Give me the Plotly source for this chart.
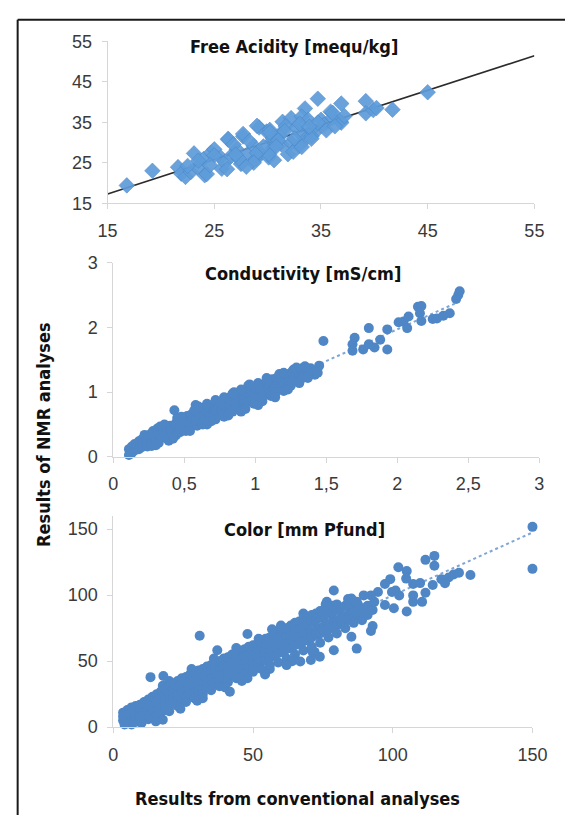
import numpy as np
import plotly.graph_objects as go

W, H = 580, 825

# ---------------- data ----------------
acid_title = "Free Acidity [mequ/kg]"
cond_title = "Conductivity [mS/cm]"
color_title = "Color [mm Pfund]"
x_axis_title = "Results from conventional analyses"
y_axis_title = "Results of NMR analyses"

acid_ticks = [15, 25, 35, 45, 55]
cond_ticks = [0, 0.5, 1, 1.5, 2, 2.5, 3]
cond_ticktext = ["0", "0,5", "1", "1,5", "2", "2,5", "3"]
cond_yticks = [0, 1, 2, 3]
color_ticks = [0, 50, 100, 150]

acid_points = [
    [16.8, 19.4], [19.2, 23.0], [21.6, 23.9], [21.9, 22.3], [22.3, 21.5], [22.8, 22.7],
    [23.1, 27.3], [23.4, 23.9], [24.0, 25.9], [24.1, 21.9], [24.7, 27.5], [25.0, 28.3],
    [25.6, 26.3], [25.7, 23.5], [26.0, 25.1], [26.3, 30.7], [26.6, 26.7], [27.1, 28.3],
    [27.5, 24.7], [27.7, 31.5], [28.1, 27.1], [28.7, 29.1], [28.9, 25.9], [29.2, 33.7],
    [29.3, 27.5], [29.9, 32.7], [30.1, 26.3], [30.4, 30.3], [30.6, 25.6], [31.1, 31.9],
    [31.4, 35.1], [34.7, 40.8], [36.9, 39.6], [39.2, 40.2], [39.2, 37.2], [39.9, 38.0],
    [40.2, 38.5], [41.7, 38.1], [45.0, 42.4], [33.5, 38.4], [32.2, 36.0], [35.9, 37.6],
    [36.8, 35.2], [33.2, 36.4], [33.8, 35.6], [31.7, 34.0], [35.0, 35.6], [32.7, 33.6],
    [31.3, 29.5], [33.2, 31.9], [32.2, 29.9], [34.1, 33.1], [34.5, 32.7], [30.2, 33.1],
    [30.5, 31.1], [32.9, 29.1], [31.9, 27.1], [33.5, 30.7], [30.5, 28.7], [30.1, 27.1],
    [34.1, 31.5], [35.3, 34.4], [36.1, 36.1], [36.9, 34.9], [34.7, 34.9], [32.4, 27.7],
    [33.2, 28.9], [34.1, 30.9], [29.0, 27.4], [28.7, 25.0], [26.2, 23.4], [24.3, 22.2],
    [29.0, 34.1], [30.2, 32.5], [31.0, 30.5], [36.1, 37.3], [26.3, 30.9], [27.7, 32.1],
    [23.5, 25.5], [25.0, 26.8], [26.8, 29.5], [27.3, 26.0], [28.3, 30.3], [28.0, 24.0],
    [29.6, 29.0], [30.8, 29.0], [31.6, 32.8], [32.5, 31.0], [33.0, 34.6], [33.9, 33.9],
    [35.5, 33.0], [36.3, 34.0], [37.2, 36.5], [22.5, 24.2], [24.6, 24.4], [27.0, 27.0],
]

cond_points = [
    [0.11, 0.03], [0.11, 0.12], [0.12, 0.08], [0.13, 0.16], [0.13, 0.06], [0.15, 0.10], [0.15, 0.20], [0.16, 0.14],
    [0.18, 0.24], [0.18, 0.12], [0.19, 0.18], [0.20, 0.15], [0.20, 0.27], [0.21, 0.21],
    [0.23, 0.20], [0.23, 0.30], [0.24, 0.25], [0.24, 0.16], [0.26, 0.22], [0.26, 0.35], [0.27, 0.28],
    [0.28, 0.40], [0.29, 0.24], [0.29, 0.31], [0.31, 0.27], [0.31, 0.44], [0.32, 0.35], [0.32, 0.22],
    [0.34, 0.30], [0.34, 0.42], [0.35, 0.37], [0.37, 0.33], [0.37, 0.46], [0.38, 0.40], [0.38, 0.28],
    [0.40, 0.36], [0.40, 0.48], [0.41, 0.42], [0.43, 0.72], [0.43, 0.40], [0.44, 0.52], [0.44, 0.33],
    [0.46, 0.44], [0.46, 0.56], [0.47, 0.49], [0.47, 0.38], [0.49, 0.47], [0.49, 0.58], [0.50, 0.52],
    [0.52, 0.50], [0.52, 0.63], [0.53, 0.56], [0.53, 0.44], [0.55, 0.53], [0.55, 0.66], [0.56, 0.59],
    [0.58, 0.56], [0.58, 0.80], [0.59, 0.62], [0.59, 0.48], [0.60, 0.71],
    [0.61, 0.60], [0.61, 0.72], [0.62, 0.64], [0.62, 0.52], [0.64, 0.63], [0.64, 0.76], [0.65, 0.68], [0.65, 0.57],
    [0.67, 0.65], [0.67, 0.78], [0.68, 0.70], [0.68, 0.60], [0.70, 0.68], [0.70, 0.80], [0.71, 0.73], [0.71, 0.62],
    [0.73, 0.71], [0.73, 0.82], [0.74, 0.76], [0.74, 0.66], [0.76, 0.74], [0.76, 0.85], [0.77, 0.79], [0.77, 0.69],
    [0.79, 0.77], [0.79, 0.88], [0.80, 0.82], [0.80, 0.72], [0.82, 0.80], [0.82, 0.92], [0.83, 0.85], [0.83, 0.75],
    [0.85, 0.83], [0.85, 1.00], [0.86, 0.88], [0.86, 0.76], [0.87, 0.94],
    [0.88, 0.85], [0.88, 0.96], [0.89, 0.90], [0.89, 0.72], [0.91, 0.88], [0.91, 0.98], [0.92, 0.93], [0.92, 0.82],
    [0.94, 0.91], [0.94, 1.02], [0.95, 0.96], [0.95, 0.85], [0.97, 0.94], [0.97, 1.05], [0.98, 0.99], [0.98, 0.88],
    [1.00, 0.97], [1.00, 1.08], [1.01, 1.02], [1.01, 0.90], [1.03, 1.00], [1.03, 1.10], [1.04, 1.04], [1.04, 0.92],
    [1.06, 1.03], [1.06, 1.12], [1.07, 1.07], [1.07, 0.96], [1.09, 1.06], [1.09, 1.15], [1.10, 1.10], [1.10, 1.00],
    [1.12, 1.08], [1.12, 1.20], [1.13, 1.13], [1.13, 1.03], [1.15, 1.11], [1.15, 1.22], [1.16, 1.16],
    [1.18, 1.13], [1.18, 1.24], [1.19, 1.17], [1.19, 1.08], [1.21, 1.16], [1.21, 1.26], [1.22, 1.20],
    [1.24, 1.18], [1.24, 1.28], [1.25, 1.22], [1.25, 1.10], [1.27, 1.21], [1.27, 1.35], [1.28, 1.25],
    [1.30, 1.24], [1.30, 1.32], [1.31, 1.28], [1.33, 1.25], [1.33, 1.37], [1.34, 1.30],
    [1.36, 1.33], [1.36, 1.27], [1.39, 1.29], [1.39, 1.37], [1.42, 1.31], [1.42, 1.27], [1.45, 1.41],
    [0.95, 1.10], [0.99, 0.82], [1.02, 1.14], [1.05, 0.86], [1.08, 1.18], [1.11, 0.94], [0.90, 1.04],
    [0.84, 0.70], [0.78, 0.92], [0.72, 0.58], [0.66, 0.82], [0.63, 0.50], [0.57, 0.72], [0.51, 0.40],
    [0.45, 0.60], [0.39, 0.25], [0.33, 0.47], [0.27, 0.17], [0.22, 0.34], [1.14, 0.98], [1.17, 1.28],
    [1.20, 1.02], [1.26, 1.15], [1.29, 1.38], [1.32, 1.20], [1.37, 1.22], [1.40, 1.33], [1.44, 1.30],
    [1.35, 1.40],
    [0.30, 0.18], [0.36, 0.50], [0.42, 0.28], [0.48, 0.62], [0.54, 0.40], [0.60, 0.78], [0.66, 0.50],
    [0.72, 0.88], [0.78, 0.62], [0.84, 0.98], [0.90, 0.70], [0.96, 1.12], [1.02, 0.80], [1.08, 1.22],
    [1.14, 0.92], [1.20, 1.30], [1.23, 1.04], [1.26, 1.32], [1.31, 1.14], [0.93, 0.74], [0.81, 0.64],
    [0.69, 0.55],
    [1.48, 1.79], [1.685, 1.74], [1.685, 1.64], [1.70, 1.84], [1.76, 1.66], [1.80, 1.74], [1.84, 1.69],
    [1.80, 1.99], [1.88, 1.81], [1.93, 1.66], [1.93, 1.97], [2.01, 2.08], [2.045, 2.09], [2.07, 1.99],
    [2.08, 2.17], [2.146, 2.32], [2.17, 2.33], [2.16, 2.22], [2.17, 2.10], [2.25, 2.13], [2.28, 2.14],
    [2.325, 2.18], [2.37, 2.22], [2.415, 2.44], [2.43, 2.50], [2.44, 2.56],
]

color_points = [
    [3.5, 11], [3.5, 5], [3.5, 8], [5, 13], [5, 3], [5, 9], [5, 7], [6.5, 15], [6.5, 6], [6.5, 11], [6.5, 2],
    [8, 12], [8, 16], [8, 8], [8, 4], [9.5, 10], [9.5, 17], [9.5, 14], [9.5, 5], [11, 19], [11, 12], [11, 8], [11, 15],
    [12.5, 21], [12.5, 14], [12.5, 10], [12.5, 6], [14, 17], [14, 23], [14, 11], [14, 7],
    [15.5, 19], [15.5, 13], [15.5, 25], [15.5, 9], [17, 22], [17, 15], [17, 27], [17, 11],
    [18.5, 18], [18.5, 24], [18.5, 13], [18.5, 29], [20, 20], [20, 26], [20, 16], [20, 31], [20, 12],
    [21.5, 23], [21.5, 29], [21.5, 18], [21.5, 33], [23, 25], [23, 31], [23, 19], [23, 35], [23, 16],
    [24.5, 27], [24.5, 33], [24.5, 22], [24.5, 37], [26, 28], [26, 34], [26, 23], [26, 38], [26, 19],
    [27.5, 30], [27.5, 36], [27.5, 25], [27.5, 40], [29, 31], [29, 37], [29, 26], [29, 41], [29, 22],
    [30.5, 32], [30.5, 39], [30.5, 28], [30.5, 43], [32, 34], [32, 40], [32, 29], [32, 44], [32, 25],
    [33.5, 35], [33.5, 41], [33.5, 31], [33.5, 46], [35, 37], [35, 43], [35, 32], [35, 47], [35, 28],
    [36.5, 38], [36.5, 44], [36.5, 34], [36.5, 48], [38, 39], [38, 46], [38, 35], [38, 50], [38, 31],
    [39.5, 41], [39.5, 47], [39.5, 37], [39.5, 52], [41, 42], [41, 49], [41, 38], [41, 53], [41, 34],
    [42.5, 44], [42.5, 50], [42.5, 40], [42.5, 55], [44, 45], [44, 52], [44, 41], [44, 56], [44, 37],
    [45.5, 47], [45.5, 53], [45.5, 43], [45.5, 58], [47, 48], [47, 55], [47, 44], [47, 59], [47, 40],
    [48.5, 50], [48.5, 56], [48.5, 46], [48.5, 61], [50, 51], [50, 58], [50, 47], [50, 62], [50, 42],
    [51.5, 53], [51.5, 59], [51.5, 48], [51.5, 63], [53, 54], [53, 61], [53, 50], [53, 65], [53, 44],
    [54.5, 56], [54.5, 62], [54.5, 51], [54.5, 67], [56, 57], [56, 64], [56, 53], [56, 68], [56, 47],
    [57.5, 59], [57.5, 65], [57.5, 54], [57.5, 70], [59, 60], [59, 67], [59, 56], [59, 72], [59, 49],
    [60.5, 62], [60.5, 68], [60.5, 57], [60.5, 73], [62, 63], [62, 70], [62, 59], [62, 75], [62, 52],
    [63.5, 65], [63.5, 71], [63.5, 60], [63.5, 77], [65, 66], [65, 73], [65, 62], [65, 79], [65, 55],
    [66.5, 68], [66.5, 75], [66.5, 63], [66.5, 80], [68, 69], [68, 76], [68, 65], [68, 82], [68, 58],
    [69.5, 71], [69.5, 78], [69.5, 66], [69.5, 83], [71, 72], [71, 80], [71, 68], [71, 85], [71, 61],
    [72.5, 74], [72.5, 81], [72.5, 70], [72.5, 86], [74, 75], [74, 83], [74, 71], [74, 88], [74, 64],
    [75.5, 77], [75.5, 84], [75.5, 73], [75.5, 89], [77, 78], [77, 86], [77, 74], [77, 90], [77, 68],
    [78.5, 80], [78.5, 87], [78.5, 76], [78.5, 92], [80, 81], [80, 89], [80, 77], [80, 93], [80, 71],
    [81.5, 83], [81.5, 90], [81.5, 79], [83, 84], [83, 92], [83, 80], [83, 75], [84.5, 86], [84.5, 93], [84.5, 82],
    [86, 87], [86, 94], [86, 83], [86, 79], [87.5, 89], [87.5, 85], [87.5, 93], [89, 90], [89, 86], [89, 81],
    [91, 92], [91, 85],
    [20, 35], [28, 44], [36, 52], [44, 60], [52, 67], [60, 77], [68, 86], [76, 93], [84, 97],
    [24, 14], [32, 22], [40, 30], [48, 37], [56, 44], [64, 50], [72, 57], [30, 20], [46, 35], [62, 47],
    [150, 151.7], [150, 119.9], [127.8, 115.2], [114.9, 129.7], [111.7, 126.7], [114.9, 122.3],
    [102, 121.1], [105, 118.2], [104.8, 112.5], [97.2, 108.4], [99.1, 112.1], [107.3, 108.4],
    [109.8, 109.1], [114.3, 107.7], [117.4, 112.1], [120, 113.3], [121.8, 115.7], [123.7, 117],
    [118.7, 109], [101, 103.5], [102.3, 99.8], [99.7, 102.3], [94.7, 102.3], [97.2, 92.5],
    [100.4, 90], [105, 87.6], [107.3, 94.9], [110.5, 94.9], [111.7, 101.8], [107.3, 99.8],
    [93.4, 94.9], [92.8, 88.8], [92.2, 99.8], [87.1, 94.9], [89.6, 99.8], [85.2, 97.4],
    [78.9, 103.5], [76.4, 94.9], [92.8, 76.6], [92.2, 72.9], [87.1, 59.5], [85.2, 68.5],
    [78.9, 58.2], [73.9, 53.3], [70.7, 50.9], [66.9, 49.7], [71.3, 57], [30.9, 69.2],
    [37.2, 58.2], [48, 70.5], [56.8, 74.1], [60, 75.4], [54.3, 39.9], [41.7, 26.9],
    [13.3, 37.9], [17.9, 38.7], [17.7, 31.3], [4, 2], [10.1, 3.2], [15.2, 4.4], [17.7, 5.6],
]


# ---------------- layout helpers (pixel -> paper) ----------------
def px(x):
    return x / W


def py(y):
    return 1 - y / H


BLUE = "#4F86C6"
DIAMOND = "#5E9CDA"
TREND_BLUE = "#7FA6D6"
TICK_FONT = dict(family="Liberation Sans, Arial, sans-serif", size=18, color="#3A3A3A")
TITLE_FONT = dict(family="Liberation Sans Narrow, DejaVu Sans Condensed, Arial Narrow, DejaVu Sans, sans-serif",
                  size=18, color="#111111")


def split(points):
    a = np.array(points, dtype=float)
    return a[:, 0], a[:, 1]


fig = go.Figure()

# trend lines (least squares through the data)
ax, ay = split(acid_points)
k, b = np.polyfit(ax, ay, 1)
tx = np.array([acid_ticks[0], acid_ticks[-1]], dtype=float)
fig.add_trace(go.Scatter(x=tx, y=k * tx + b, mode="lines", xaxis="x", yaxis="y",
                         line=dict(color="#2B2B2B", width=1.6), hoverinfo="skip", showlegend=False))

cx, cy = split(cond_points)
k2, b2 = np.polyfit(cx, cy, 1)
tx2 = np.array([cx.min(), cx.max()])
fig.add_trace(go.Scatter(x=tx2, y=k2 * tx2 + b2, mode="lines", xaxis="x2", yaxis="y2",
                         line=dict(color=TREND_BLUE, width=2, dash="dot"), hoverinfo="skip", showlegend=False))

kx, ky = split(color_points)
k3, b3 = np.polyfit(kx, ky, 1)
tx3 = np.array([kx.min(), kx.max()])
fig.add_trace(go.Scatter(x=tx3, y=k3 * tx3 + b3, mode="lines", xaxis="x3", yaxis="y3",
                         line=dict(color=TREND_BLUE, width=2, dash="dot"), hoverinfo="skip", showlegend=False))

# markers
fig.add_trace(go.Scatter(x=ax, y=ay, mode="markers", xaxis="x", yaxis="y", cliponaxis=False,
                         marker=dict(symbol="diamond", size=12, color=DIAMOND, opacity=0.92,
                                     line=dict(color="#4A86C8", width=0.6)),
                         showlegend=False))
fig.add_trace(go.Scatter(x=cx, y=cy, mode="markers", xaxis="x2", yaxis="y2", cliponaxis=False,
                         marker=dict(symbol="circle", size=10, color=BLUE, line=dict(width=0)),
                         showlegend=False))
fig.add_trace(go.Scatter(x=kx, y=ky, mode="markers", xaxis="x3", yaxis="y3", cliponaxis=False,
                         marker=dict(symbol="circle", size=10, color=BLUE, line=dict(width=0)),
                         showlegend=False))

axis_common = dict(showgrid=False, zeroline=False, showline=True, linecolor="#D6D6D6", linewidth=1,
                   ticks="outside", ticklen=5, tickcolor="#D6D6D6", tickfont=TICK_FONT, fixedrange=True,
                   ticklabelstandoff=6)

# bottom y-axis runs to 160 (no label), 150 at pixel 532, 0 at 735
y3_top = 735 - (735 - 532) * 160 / 150

fig.update_layout(
    width=W, height=H, margin=dict(l=0, r=0, t=0, b=0),
    paper_bgcolor="white", plot_bgcolor="white", showlegend=False,
    xaxis=dict(domain=[px(102), px(548)], range=[15, 55], tickvals=acid_ticks, anchor="y", **axis_common),
    yaxis=dict(domain=[py(198), py(32)], range=[15, 55], tickvals=acid_ticks, anchor="x", **axis_common),
    xaxis2=dict(domain=[px(108), px(553)], range=[0, 3], tickvals=cond_ticks, ticktext=cond_ticktext,
                anchor="y2", **axis_common),
    yaxis2=dict(domain=[py(458), py(259)], range=[0, 3], tickvals=cond_yticks, anchor="x2", **axis_common),
    xaxis3=dict(domain=[px(108), px(546)], range=[0, 150], tickvals=color_ticks, anchor="y3", **axis_common),
    yaxis3=dict(domain=[py(735), py(y3_top)], range=[0, 160], tickvals=color_ticks, anchor="x3", **axis_common),
)

annotations = [
    dict(text=acid_title, x=px(297), y=py(37)),
    dict(text=cond_title, x=px(306), y=py(270)),
    dict(text=color_title, x=px(308), y=py(532)),
    dict(text=x_axis_title, x=px(300), y=py(808)),
    dict(text=y_axis_title, x=px(35), y=py(435), textangle=-90),
]
for a in annotations:
    fig.add_annotation(xref="paper", yref="paper", showarrow=False, xanchor="center", yanchor="middle",
                       font=TITLE_FONT, x=a["x"], y=a["y"], textangle=a.get("textangle", 0),
                       text="<b>" + a["text"] + "</b>")

# frame lines (left and top edges of the figure box)
fig.add_shape(type="line", xref="paper", yref="paper", x0=px(8), x1=px(8), y0=0, y1=py(10),
              line=dict(color="#1A1A1A", width=2))
fig.add_shape(type="line", xref="paper", yref="paper", x0=px(8), x1=1, y0=py(10), y1=py(10),
              line=dict(color="#1A1A1A", width=2))

fig.write_html("out.html")
